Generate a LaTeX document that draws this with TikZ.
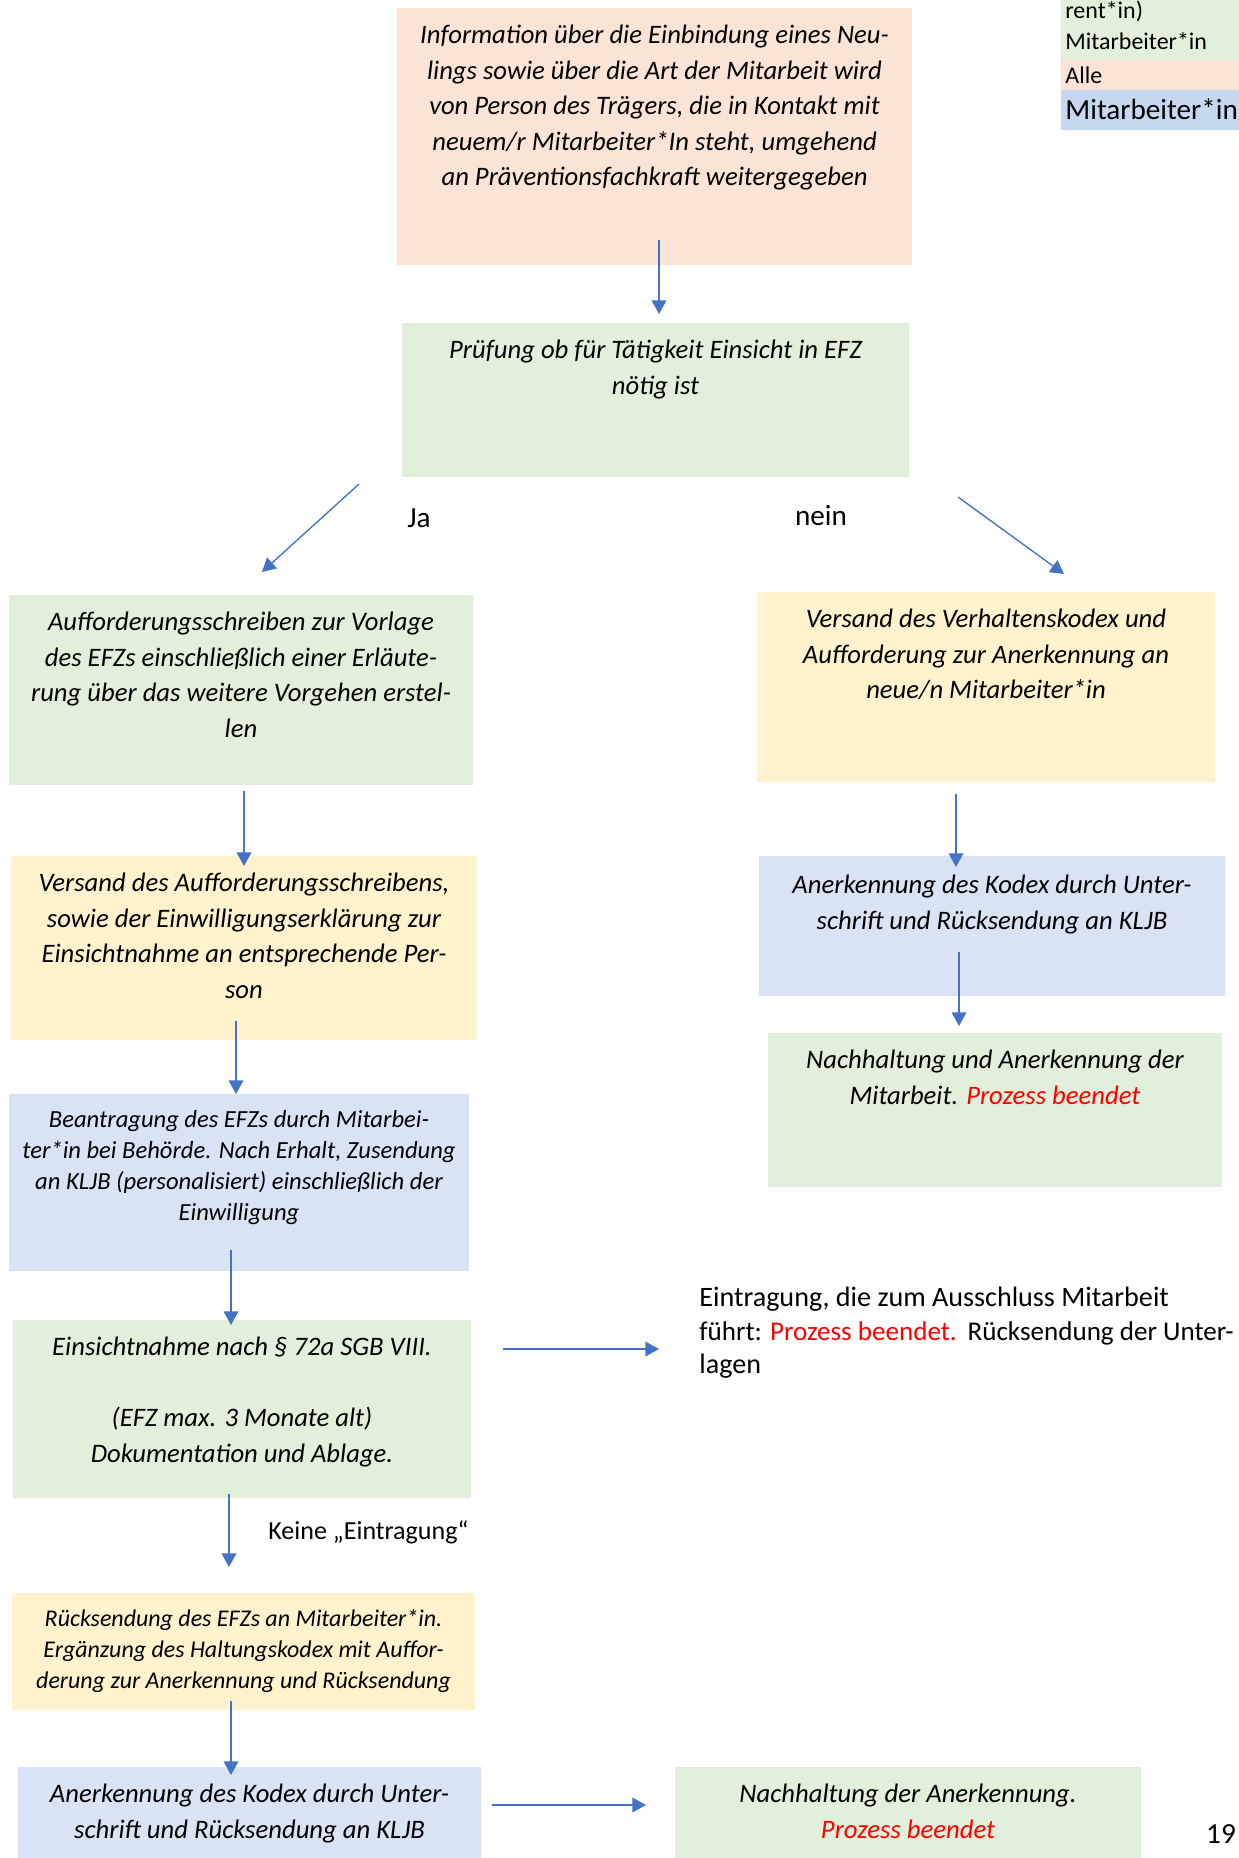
\documentclass[tikz,border=0pt]{standalone}
\usepackage{fontspec}
\setmainfont{Carlito}
\usetikzlibrary{arrows.meta, calc, fit}

\definecolor{gruen}{HTML}{E2EFDA}
\definecolor{rosa}{HTML}{FBE4D5}
\definecolor{gelb}{HTML}{FFF2CC}
\definecolor{blau}{HTML}{DAE3F3}
\definecolor{blaulg}{HTML}{C6D7F0}
\definecolor{pfeil}{HTML}{4472C4}
\newcommand{\beendet}[1]{\textcolor{red}{#1}}

\tikzset{
  feld/.style={fill=#1, inner sep=0pt, outer sep=0pt},
  txt/.style={anchor=north, align=center, inner sep=0pt,
    font=\fontsize{12.8}{17}\selectfont\itshape},
  klein/.style={txt, font=\fontsize{11.8}{14.8}\selectfont\itshape},
  gerade/.style={inner sep=0pt, font=\fontsize{12}{16}\selectfont},
  pf/.style={draw=pfeil, line width=0.65pt, -{Triangle[width=7pt,length=6.5pt]}},
}

\begin{document}
\begin{tikzpicture}[x=0.48pt, y=-0.48pt]
  \useasboundingbox (0,0) rectangle (1239,1858);
  \clip (0,0) rectangle (1239,1858);

  % Legende
  \node[feld=gruen, fit={(1061,0) (1239,60)}] (lg1) {};
  \node[feld=rosa, fit={(1061,60) (1239,90)}] (lg2) {};
  \node[feld=blaulg, fit={(1061,90) (1239,130)}] (lg3) {};
  \node[gerade, anchor=base west, font=\fontsize{11.5}{16}\selectfont] (lg1-a) at (1065,18) {rent*in)};
  \node[gerade, anchor=base west, font=\fontsize{11.5}{16}\selectfont] (lg1-b) at (1065,50) {Mitarbeiter*in};
  \node[gerade, anchor=base west, font=\fontsize{11.5}{16}\selectfont] (lg2-t) at (1065,83) {Alle};
  \node[gerade, anchor=base west, font=\fontsize{14}{18}\selectfont] (lg3-t) at (1065,119) {Mitarbeiter*in};

  % Information
  \node[feld=rosa, fit={(397,8) (912,265)}] (info) {};
  \node[txt] (info-t) at ($(info.north)+(0,17)$) {Information über die Einbindung eines Neu-\\
    lings sowie über die Art der Mitarbeit wird\\
    von Person des Trägers, die in Kontakt mit\\
    neuem/r Mitarbeiter*In steht, umgehend\\
    an Präventionsfachkraft weitergegeben};

  % Pruefung
  \node[feld=gruen, fit={(402,323) (909,477)}] (check) {};
  \node[txt] (check-t) at ($(check.north)+(0,17)$) {Prüfung ob für Tätigkeit Einsicht in EFZ\\ nötig ist};

  \node[gerade, font=\fontsize{14}{16}\selectfont] (ja) at (419,518) {Ja};
  \node[gerade, font=\fontsize{14}{16}\selectfont] (nein) at (821,516) {nein};

  % linker Zweig
  \node[feld=gruen, fit={(9,595) (473,785)}] (A1) {};
  \node[txt] (A1-t) at ($(A1.north)+(0,17)$) {Aufforderungsschreiben zur Vorlage\\
    des EFZs einschließlich einer Erläute-\\
    rung über das weitere Vorgehen erstel-\\
    len};

  \node[feld=gelb, fit={(11,856) (477,1040)}] (A2) {};
  \node[txt] (A2-t) at ($(A2.north)+(0,17)$) {Versand des Aufforderungsschreibens,\\
    sowie der Einwilligungserklärung zur\\
    Einsichtnahme an entsprechende Per-\\
    son};

  \node[feld=blau, fit={(9,1094) (469,1271)}] (A3) {};
  \node[klein] (A3-t) at ($(A3.north)+(0,16)$) {Beantragung des EFZs durch Mitarbei-\\
    ter*in bei Behörde. Nach Erhalt, Zusendung\\
    an KLJB (personalisiert) einschließlich der\\
    Einwilligung};

  \node[feld=gruen, fit={(13,1320) (471,1498)}] (A4) {};
  \node[txt] (A4-t) at ($(A4.north)+(0,17)$) {Einsichtnahme nach § 72a SGB VIII.\\[17pt]
    (EFZ max. 3 Monate alt)\\
    Dokumentation und Ablage.};

  \node[gerade, anchor=north west, align=left, font=\fontsize{13.5}{16}\selectfont] (excl) at (699,1287) {Eintragung, die zum Ausschluss Mitarbeit\\
    {\fontsize{13}{16}\selectfont führt: \beendet{Prozess beendet.}\hspace{0.4em}Rücksendung der Unter-}\\
    lagen};

  \node[gerade, anchor=west, font=\fontsize{12.5}{16}\selectfont] (keine) at (268,1532) {Keine „Eintragung“};

  \node[feld=gelb, fit={(12,1593) (475,1710)}] (A5) {};
  \node[klein, font=\fontsize{11.5}{15}\selectfont\itshape] (A5-t) at ($(A5.north)+(0,16)$) {Rücksendung des EFZs an Mitarbeiter*in.\\
    Ergänzung des Haltungskodex mit Auffor-\\
    derung zur Anerkennung und Rücksendung};

  \node[feld=blau, fit={(18,1767) (481,1858)}] (A6) {};
  \node[txt] (A6-t) at ($(A6.north)+(0,17)$) {Anerkennung des Kodex durch Unter-\\
    schrift und Rücksendung an KLJB};

  \node[feld=gruen, fit={(675,1767) (1141,1858)}] (E) {};
  \node[txt] (E-t) at ($(E.north)+(0,17)$) {Nachhaltung der Anerkennung.\\
    \beendet{Prozess beendet}};

  % rechter Zweig
  \node[feld=gelb, fit={(757,592) (1215,782)}] (R1) {};
  \node[txt] (R1-t) at ($(R1.north)+(0,17)$) {Versand des Verhaltenskodex und\\
    Aufforderung zur Anerkennung an\\
    neue/n Mitarbeiter*in};

  \node[feld=blau, fit={(759,856) (1225,996)}] (R2) {};
  \node[txt] (R2-t) at ($(R2.north)+(0,19)$) {Anerkennung des Kodex durch Unter-\\
    schrift und Rücksendung an KLJB};

  \node[feld=gruen, fit={(768,1033) (1222,1187)}] (R3) {};
  \node[txt] (R3-t) at ($(R3.north)+(0,17)$) {Nachhaltung und Anerkennung der\\
    Mitarbeit. \beendet{Prozess beendet}};

  % Seitenzahl
  \node[gerade, font=\fontsize{14}{16}\selectfont] (seite) at (1221,1834) {19};

  % Pfeile
  \draw[pf] ($(info.south)+(4.5,-25)$) -- ($(check.north)+(3.5,-9)$);
  \draw[pf] ($(check.south west)+(-43,7)$) -- ($(A1.north)+(21,-23)$);
  \draw[pf] ($(check.south east)+(49,20)$) -- ($(R1.north)+(78,-18)$);
  \draw[pf] ($(A1.south)+(3,6)$) -- ($(A2.north)+(0,10)$);
  \draw[pf] ($(A2.south)+(-8,-19)$) -- ($(A3.north)+(-3,0)$);
  \draw[pf] ($(A3.south)+(-8,-21)$) -- ($(A4.north)+(-11,5)$);
  \draw[pf] ($(A4.north east)+(32,29)$) -- ($(excl.north west)+(-40,62)$);
  \draw[pf] ($(A4.south)+(-13,-4)$) -- ($(A5.north)+(-14.5,-26)$);
  \draw[pf] ($(A5.south)+(-12.5,-9)$) -- ($(A6.north)+(-18.5,8)$);
  \draw[pf] ($(A6.north east)+(11,38)$) -- ($(E.north west)+(-29,38)$);
  \draw[pf] ($(R1.south)+(-30,12)$) -- ($(R2.north)+(-36,11)$);
  \draw[pf] ($(R2.south)+(-33,-44)$) -- ($(R3.north)+(-36,-7)$);
\end{tikzpicture}
\end{document}
